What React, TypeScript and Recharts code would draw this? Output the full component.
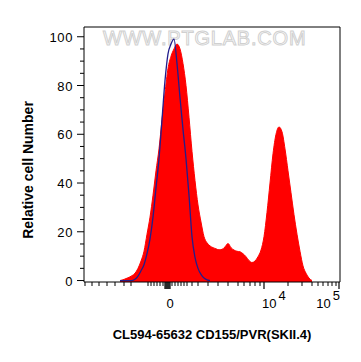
import React from 'react';
import { ComposedChart, Area, Line, XAxis, YAxis } from 'recharts';

// channel positions on the display (logicle) scale, 0..1024
const channels = [
  144, 156, 168, 180, 192, 204, 216, 228, 240, 252, 264, 276, 288, 300, 312, 324,
  336, 348, 360, 372, 384, 396, 408, 420, 432, 444, 456, 468, 480, 492, 504, 516,
  528, 540, 552, 564, 576, 588, 600, 612, 624, 636, 648, 660, 672, 684, 696, 708,
  720, 732, 744, 756, 768, 780, 792, 804, 816, 828, 840, 852, 864, 876, 888, 900, 912,
];

// CD155/PVR stained sample (red filled)
const stained = [
  0, 0.3, 0.8, 1.3, 2, 3, 5, 8, 12, 19, 26, 35, 45, 54, 66, 77,
  87, 92, 95, 97, 95, 89, 80, 67, 53, 41, 31, 24, 18, 15.5, 14.2, 13.5,
  13, 12.6, 12.8, 13.8, 15.2, 13.5, 12.5, 12, 11.8, 11, 9.8, 8.2, 7.4, 8, 9.8, 12.5,
  18, 28, 40, 52, 60, 63, 61, 54, 45, 36, 27, 19, 12, 6, 3, 1, 0,
];

// isotype / unstained control (blue line)
const control: (number | null)[] = [
  0, 0, 0, 0, 0, 0.5, 1.8, 4, 6.5, 11, 17, 26, 38, 50, 66, 82,
  93, 97, 99, 89, 75, 62, 50, 35, 18, 9.5, 5, 2.5, 1, 0.3, 0, null,
  null, null, null, null, null, null, null, null, null, null, null, null, null, null, null, null,
  null, null, null, null, null, null, null, null, null, null, null, null, null, null, null, null, null,
];

const yTicks = [0, 5, 10, 15, 20, 25, 30, 35, 40, 45, 50, 55, 60, 65, 70, 75, 80, 85, 90, 95, 100];
const yLabels = [0, 20, 40, 60, 80, 100];

const xTicks = [
  4, 32, 60, 92, 124, 160, 188, 256, 268, 280, 292, 304, 316, 324, 328, 332, 336, 340, 344,
  352, 364, 376, 388, 400, 412, 432, 456, 496, 536, 576, 616, 640, 664, 684, 704, 720,
  816, 872, 912, 936, 956, 976, 992, 1008, 1020,
];
const xMajor = [324, 328, 332, 336, 340, 344, 720, 1020];
const xLabels = [
  { ch: 344, base: '0', exp: '' },
  { ch: 720, base: '10', exp: '4' },
  { ch: 1020, base: '10', exp: '5' },
];

const Y_MIN = -0.6;
const Y_MAX = 104;

const data = channels.map((ch, i) => ({ ch, stained: stained[i], control: control[i] }));

const FONT = '"Liberation Sans", Arial, sans-serif';

function YTick(props: any) {
  const { x, y, payload } = props;
  const major = yLabels.includes(payload.value);
  return (
    <g>
      <line x1={x - (major ? 7 : 4)} x2={x} y1={y} y2={y} stroke="#000" />
      {major && (
        <text x={x - 11} y={y + 5} textAnchor="end" fontSize={13} fontFamily={FONT} fill="#000" letterSpacing={0.6}>
          {payload.value}
        </text>
      )}
    </g>
  );
}

function XTick(props: any) {
  const { x, y, payload } = props;
  const major = xMajor.includes(payload.value);
  const lab = xLabels.find((l) => l.ch === payload.value);
  let label = null;
  if (lab) {
    if (!lab.exp) {
      label = (
        <text x={x} y={y + 26} textAnchor="middle" fontSize={13} fontFamily={FONT} fill="#000">
          {lab.base}
        </text>
      );
    } else {
      const last = payload.value === 1020;
      label = (
        <text x={last ? x + 1 : x - 2} y={y + 26} textAnchor={last ? 'end' : 'start'} fontSize={13} fontFamily={FONT} fill="#000">
          <tspan>{lab.base}</tspan>
          <tspan dx={2} dy={-8}>{lab.exp}</tspan>
        </text>
      );
    }
  }
  return (
    <g>
      <line x1={x} x2={x} y1={y} y2={y + (major ? 7 : 4)} stroke="#000" strokeWidth={major ? 1.2 : 1} />
      {label}
    </g>
  );
}

export default function App() {
  return (
    <div style={{ position: 'absolute', left: 0, top: 0, width: 361, height: 362, background: '#fff' }}>
      <svg width={361} height={362} style={{ position: 'absolute', left: 0, top: 0 }}>
        <text
          x={103}
          y={45}
          fontSize={20}
          fontFamily={FONT}
          letterSpacing={0.8}
          fill="#fff"
          stroke="#d0d0d0"
          strokeWidth={1}
        >
          WWW.PTGLAB.COM
        </text>
      </svg>
      <div style={{ position: 'absolute', left: 0, top: 0 }}>
        <ComposedChart
          width={361}
          height={362}
          data={data}
          margin={{ top: 26, right: 20, bottom: 79, left: 83 }}
        >
          <XAxis
            dataKey="ch"
            type="number"
            domain={[0, 1024]}
            ticks={xTicks}
            interval={0}
            height={1}
            tickLine={false}
            tickSize={0}
            tickMargin={0}
            tick={<XTick />}
            axisLine={{ stroke: '#000' }}
            allowDataOverflow
          />
          <XAxis xAxisId="top" orientation="top" dataKey="ch" type="number" domain={[0, 1024]} height={1} tick={false} tickLine={false} axisLine={{ stroke: '#000' }} />
          <YAxis
            type="number"
            domain={[Y_MIN, Y_MAX]}
            ticks={yTicks}
            interval={0}
            width={1}
            tickLine={false}
            tickSize={0}
            tickMargin={0}
            tick={<YTick />}
            axisLine={{ stroke: '#000' }}
            allowDataOverflow
          />
          <YAxis yAxisId="right" orientation="right" type="number" domain={[Y_MIN, Y_MAX]} width={1} tick={false} tickLine={false} axisLine={{ stroke: '#000' }} />
          <Area
            dataKey="stained"
            type="monotone"
            baseValue={Y_MIN}
            fill="#ff0000"
            fillOpacity={1}
            stroke="#ff0000"
            strokeWidth={1}
            isAnimationActive={false}
            dot={false}
            activeDot={false}
          />
          <Line
            dataKey="control"
            type="monotone"
            stroke="#221d8c"
            strokeWidth={1.3}
            dot={false}
            activeDot={false}
            isAnimationActive={false}
          />
        </ComposedChart>
      </div>
      <div
        style={{
          position: 'absolute',
          left: 28,
          top: 170,
          transform: 'translate(-50%, -50%) rotate(-90deg)',
          fontFamily: FONT,
          fontWeight: 'bold',
          fontSize: 14,
          whiteSpace: 'nowrap',
        }}
      >
        Relative cell Number
      </div>
      <div
        style={{
          position: 'absolute',
          left: 212,
          top: 334,
          transform: 'translate(-50%, -50%)',
          fontFamily: FONT,
          fontWeight: 'bold',
          fontSize: 13,
          whiteSpace: 'nowrap',
        }}
      >
        CL594-65632 CD155/PVR(SKII.4)
      </div>
    </div>
  );
}
